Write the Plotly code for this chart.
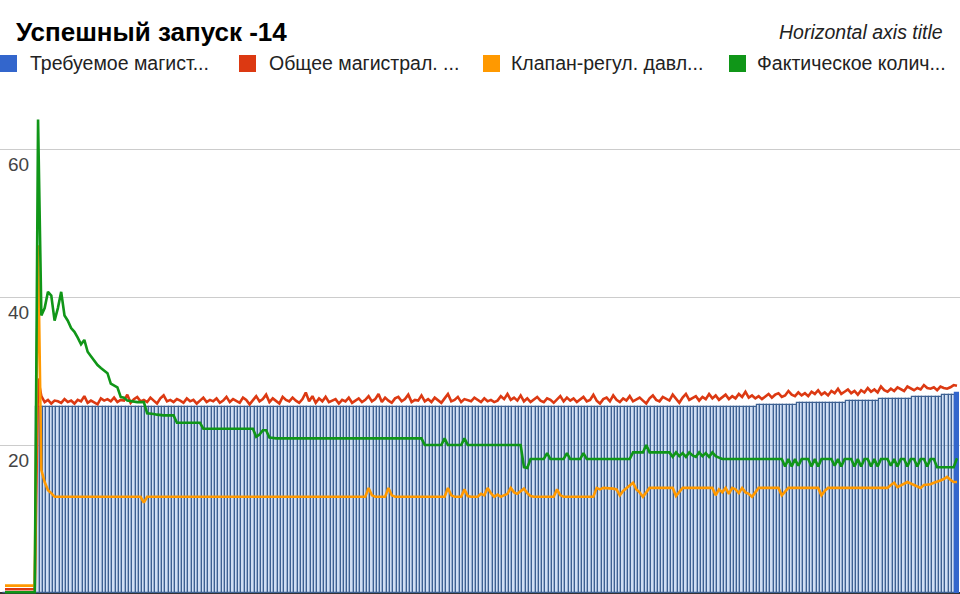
import plotly.graph_objects as go

# ---------------- data ----------------
title_text = "Успешный запуск -14"
h_axis_title = "Horizontal axis title"
series_names = ["Требуемое магист...", "Общее магистрал. ...", "Клапан-регул. давл...", "Фактическое колич..."]
y_tick_values = [20, 40, 60]
y_tick_labels = ["20", "40", "60"]

required = [
0,0,0,0,0,0,0,0,0,0,
25.1,25.1,25.1,25.1,25.1,25.1,25.1,25.1,25.1,25.1,25.1,25.1,25.1,25.1,25.1,25.1,25.1,25.1,25.1,25.1,
25.1,25.1,25.1,25.1,25.1,25.1,25.1,25.1,25.1,25.1,25.1,25.1,25.1,25.1,25.1,25.1,25.1,25.1,25.1,25.1,
25.1,25.1,25.1,25.1,25.1,25.1,25.1,25.1,25.1,25.1,25.1,25.1,25.1,25.1,25.1,25.1,25.1,25.1,25.1,25.1,
25.1,25.1,25.1,25.1,25.1,25.1,25.1,25.1,25.1,25.1,25.1,25.1,25.1,25.1,25.1,25.1,25.1,25.1,25.1,25.1,
25.1,25.1,25.1,25.1,25.1,25.1,25.1,25.1,25.1,25.1,25.1,25.1,25.1,25.1,25.1,25.1,25.1,25.1,25.1,25.1,
25.1,25.1,25.1,25.1,25.1,25.1,25.1,25.1,25.1,25.1,25.1,25.1,25.1,25.1,25.1,25.1,25.1,25.1,25.1,25.1,
25.1,25.1,25.1,25.1,25.1,25.1,25.1,25.1,25.1,25.1,25.1,25.1,25.1,25.1,25.1,25.1,25.1,25.1,25.1,25.1,
25.1,25.1,25.1,25.1,25.1,25.1,25.1,25.1,25.1,25.1,25.1,25.1,25.1,25.1,25.1,25.1,25.1,25.1,25.1,25.1,
25.1,25.1,25.1,25.1,25.1,25.1,25.1,25.1,25.1,25.1,25.1,25.1,25.1,25.1,25.1,25.1,25.1,25.1,25.1,25.1,
25.1,25.1,25.1,25.1,25.1,25.1,25.1,25.1,25.1,25.1,25.1,25.1,25.1,25.1,25.1,25.1,25.1,25.1,25.1,25.1,
25.1,25.1,25.1,25.1,25.1,25.1,25.1,25.1,
25.2,25.2,25.2,25.2,25.2,25.2,25.2,25.2,25.2,25.2,
25.4,25.4,25.4,25.4,25.4,25.4,25.4,25.4,25.4,25.4,25.4,25.4,
25.7,25.7,25.7,25.7,25.7,25.7,25.7,25.7,25.7,25.7,25.7,25.7,25.7,25.7,25.7,
25.9,25.9,25.9,25.9,25.9,25.9,25.9,25.9,25.9,25.9,
26.2,26.2,26.2,26.2,26.2,26.2,26.2,26.2,26.2,26.2,
26.5,26.5,26.5,26.5,26.5,26.5,26.5,26.5,26.5,
26.8,26.8,26.8,26.8,
27.0]

total_main = [
0.5,0.5,0.5,0.5,0.5,0.5,0.5,0.5,0.5,0.5,
29.0,
26.6,25.8,26.1,25.6,26.0,25.9,25.7,26.2,25.8,26.0,
25.6,26.1,25.9,26.6,25.7,26.0,25.8,25.5,26.3,26.0,
26.2,25.9,26.4,25.8,26.1,26.0,26.8,25.7,26.2,26.5,
25.9,26.1,25.8,26.4,26.0,25.6,26.3,26.7,25.9,26.1,
25.8,26.2,26.0,25.7,26.3,25.9,26.1,25.6,26.0,26.4,
25.8,26.1,25.9,26.3,25.7,26.0,26.5,25.8,26.2,26.0,
25.7,26.4,26.1,25.5,26.0,26.6,25.9,26.2,26.8,25.8,
26.3,26.0,25.6,26.5,26.1,25.9,26.4,26.0,25.7,26.2,
27.1,25.9,26.6,25.7,26.3,25.9,26.5,25.8,26.0,26.2,
25.6,26.1,25.9,26.4,25.7,26.0,26.3,25.8,26.1,26.6,
25.9,26.2,26.9,25.8,26.4,26.0,25.7,26.3,26.5,25.9,
26.2,26.8,25.8,26.1,26.0,26.7,25.9,26.2,25.8,26.4,
26.0,25.7,26.3,26.9,25.9,26.1,26.5,25.8,26.2,26.0,
25.9,26.4,26.1,25.8,26.3,25.9,26.1,25.8,26.0,26.6,
26.2,26.9,26.1,26.4,26.0,26.7,25.9,26.3,25.8,26.1,
26.5,26.0,25.8,26.3,26.1,25.7,26.2,26.6,25.9,26.4,
26.0,26.3,25.8,26.2,26.5,25.9,26.1,26.8,26.0,25.6,
26.2,26.4,25.9,26.7,26.1,25.8,26.3,26.0,26.6,25.9,
26.2,26.4,26.0,25.6,26.3,26.7,26.1,25.9,26.5,26.2,
26.0,26.8,26.2,25.7,26.4,26.9,26.1,26.3,26.6,26.0,
26.5,26.2,26.9,26.3,26.7,26.1,26.4,26.8,26.2,26.6,
26.3,26.9,26.5,27.2,26.4,26.7,26.3,26.6,26.2,26.5,
26.9,26.4,26.8,27.0,26.5,26.7,27.3,26.8,26.6,27.1,
26.7,27.0,26.6,27.2,26.9,27.4,26.8,27.1,26.7,27.3,
27.0,27.6,26.9,27.2,27.5,27.0,27.3,26.8,27.4,27.1,
27.7,27.2,27.5,27.1,27.9,27.4,27.2,27.6,27.3,27.8,
27.5,27.3,27.9,27.6,27.4,27.7,27.5,28.1,27.7,27.6,
27.8,27.4,27.9,27.7,27.6,27.8,28.1,28.0]

valve_reg = [
1.0,1.0,1.0,1.0,1.0,1.0,1.0,1.0,1.0,1.0,
47.0,
16.6,15.0,13.9,13.5,
13.0,13.0,13.0,13.0,13.0,13.0,13.0,13.0,13.0,13.0,13.0,13.0,13.0,13.0,13.0,13.0,13.0,13.0,13.0,13.0,13.0,13.0,13.0,13.0,13.0,13.0,13.0,
12.2,
13.0,13.0,13.0,13.0,13.0,13.0,13.0,13.0,13.0,13.0,13.0,13.0,13.0,13.0,13.0,13.0,13.0,13.0,13.0,13.0,
13.0,13.0,13.0,13.0,13.0,13.0,13.0,13.0,13.0,13.0,13.0,13.0,13.0,13.0,13.0,13.0,13.0,13.0,13.0,13.0,
13.0,13.0,13.0,13.0,13.0,13.0,13.0,13.0,13.0,13.0,13.0,13.0,13.0,13.0,13.0,13.0,13.0,13.0,13.0,13.0,
13.0,13.0,13.0,13.0,13.0,13.0,13.0,
14.2,13.2,
13.0,13.0,13.0,13.0,
14.2,13.2,
13.0,13.0,13.0,13.0,13.0,13.0,13.0,13.0,13.0,13.0,13.0,13.0,13.0,13.0,13.0,13.0,
14.2,13.2,
13.0,13.0,13.0,
14.0,13.1,
13.0,13.0,13.0,
13.4,13.2,14.2,13.5,13.0,13.3,13.0,13.2,13.4,14.2,13.6,13.4,13.8,14.1,13.5,13.1,
13.0,13.0,13.0,13.0,13.0,13.0,13.0,14.0,13.2,13.0,13.0,13.0,13.0,13.0,13.0,13.0,13.0,13.0,13.0,
14.2,14.0,14.2,14.2,14.2,14.1,14.0,13.2,13.8,14.2,14.5,14.9,14.0,13.6,13.0,13.6,14.2,
14.2,14.2,14.2,14.2,14.2,14.2,14.2,
13.1,13.6,
14.2,14.2,14.2,14.2,14.2,14.2,14.2,14.2,14.2,14.2,
13.2,14.0,13.6,14.2,13.4,14.2,14.0,13.5,14.2,13.6,13.4,13.0,13.6,
14.2,14.2,14.2,14.2,14.2,14.2,14.2,
13.2,13.7,
14.2,14.2,14.2,14.2,14.2,14.2,14.2,14.2,14.2,14.2,
13.2,13.8,
14.2,14.2,14.2,14.2,14.2,14.2,14.2,14.2,14.2,14.2,14.2,14.2,14.2,14.2,14.2,14.2,14.2,14.2,14.2,
14.6,14.9,14.3,14.5,14.8,15.0,14.8,14.6,14.4,14.2,14.6,14.6,14.7,14.9,15.0,15.2,15.4,15.7,15.3,15.0,15.0]

actual_qty = [
0.1,0.1,0.1,0.1,0.1,0.1,0.1,0.1,0.1,0.1,
64.0,
37.5,38.5,40.7,40.2,36.8,38.5,40.7,37.5,36.8,35.8,35.3,34.5,33.6,34.2,32.6,32.0,31.4,30.8,30.4,30.0,29.7,28.3,28.1,27.8,26.5,26.4,
26.0,25.9,25.8,25.8,25.8,25.8,
24.3,24.3,24.2,24.1,24.0,24.0,24.0,24.0,24.0,
23.0,23.0,23.0,23.0,23.0,23.0,23.0,23.0,
22.2,22.2,22.2,22.2,22.2,22.2,22.2,22.2,22.2,22.2,22.2,22.2,22.2,22.2,22.2,22.2,
21.1,21.4,22.0,22.0,21.0,
20.9,20.9,20.9,20.9,20.9,20.9,20.9,20.9,20.9,20.9,20.9,20.9,20.9,20.9,20.9,20.9,20.9,20.9,20.9,20.9,
20.9,20.9,20.9,20.9,20.9,20.9,20.9,20.9,20.9,20.9,20.9,20.9,20.9,20.9,20.9,20.9,20.9,20.9,20.9,20.9,
20.9,20.9,20.9,20.9,20.9,20.9,
20.0,20.0,20.0,20.0,20.0,20.0,20.9,20.0,20.0,20.0,20.0,20.0,20.9,
20.0,20.0,20.0,20.0,20.0,20.0,20.0,20.0,20.0,20.0,20.0,20.0,20.0,20.0,20.0,20.0,20.0,
17.0,16.9,
18.1,18.1,18.1,18.1,18.1,18.9,18.1,18.1,18.1,18.1,18.1,18.9,18.1,18.1,18.1,18.1,18.9,
18.1,18.1,18.1,18.1,18.1,18.1,18.1,18.1,18.1,18.1,18.1,18.1,18.1,18.1,
19.0,19.0,19.0,19.0,20.0,19.0,19.0,19.0,19.0,19.0,19.0,19.0,
18.4,19.0,18.5,18.9,18.4,19.0,18.6,18.4,19.0,18.5,18.9,18.4,19.0,18.5,18.3,
18.1,18.1,18.1,18.1,18.1,18.1,18.1,18.1,18.1,18.1,18.1,18.1,18.1,18.1,18.1,18.1,18.1,
18.1,18.1,17.1,18.1,17.1,18.1,17.2,18.1,18.1,18.1,
17.1,18.1,17.1,18.1,18.1,18.1,18.1,17.2,18.1,17.1,
18.1,18.1,18.1,17.1,18.1,17.1,18.1,18.1,17.1,18.1,
17.1,18.1,18.1,18.1,17.2,18.1,17.1,18.1,18.1,17.1,
18.1,18.1,17.1,18.1,18.1,17.1,18.1,18.1,
17.0,17.0,17.0,17.0,17.0,17.0,
18.2]

lens = [len(required), len(total_main), len(valve_reg), len(actual_qty)]
assert len(set(lens)) == 1, f"length mismatch {lens}"
n = lens[0]
x_idx = list(range(n))

# ---------------- styling ----------------
W, H = 960, 594
FONT = "Liberation Sans, Arial, sans-serif"
BLUE, RED, ORANGE, GREEN = "#3366cc", "#dc3912", "#ff9900", "#109618"

bar_fill = ["rgba(90,140,215,0.28)"] * (n - 1) + [BLUE]
bar_line = ["#3e6192"] * (n - 1) + [BLUE]

fig = go.Figure()
fig.add_trace(go.Bar(x=x_idx, y=required, name=series_names[0],
                     marker=dict(color=bar_fill, line=dict(color=bar_line, width=1.2)),
                     showlegend=False))
fig.add_trace(go.Scatter(x=x_idx, y=total_main, mode="lines", name=series_names[1],
                         line=dict(color=RED, width=2.6), showlegend=False))
fig.add_trace(go.Scatter(x=x_idx, y=valve_reg, mode="lines", name=series_names[2],
                         line=dict(color=ORANGE, width=2.6), showlegend=False))
fig.add_trace(go.Scatter(x=x_idx, y=actual_qty, mode="lines", name=series_names[3],
                         line=dict(color=GREEN, width=2.6), showlegend=False))

# axis ranges chosen so that the chart area fills the whole window (cropped view)
ppx = 3.3055
x0 = -5 / ppx
ppy = 7.4
y0 = -1 / ppy

def px(xp):
    return xp / W

def py(yp):
    return 1 - yp / H

shapes = []
annotations = []

TXT = 19.5
legend_sq = [(0, BLUE), (239, RED), (483, ORANGE), (729, GREEN)]
legend_tx = [28, 267, 509, 755]
for (sx, col), tx, name in zip(legend_sq, legend_tx, series_names):
    shapes.append(dict(type="rect", xref="paper", yref="paper",
                       x0=px(sx), x1=px(sx + 17), y0=py(72), y1=py(55),
                       fillcolor=col, line=dict(width=0)))
    annotations.append(dict(text=name, xref="paper", yref="paper", x=px(tx), y=py(63),
                            xanchor="left", yanchor="middle", showarrow=False,
                            font=dict(family=FONT, size=TXT, color="#222222")))

annotations.append(dict(text="<b>" + title_text + "</b>", xref="paper", yref="paper",
                        x=px(14), y=py(32), xanchor="left", yanchor="middle", showarrow=False,
                        font=dict(family=FONT, size=26, color="#000000")))
annotations.append(dict(text="<i>" + h_axis_title + "</i>", xref="paper", yref="paper",
                        x=px(945), y=py(32), xanchor="right", yanchor="middle", showarrow=False,
                        font=dict(family=FONT, size=TXT, color="#222222")))
for v, lab in zip(y_tick_values, y_tick_labels):
    annotations.append(dict(text=lab, xref="paper", yref="y", x=px(6), y=v, yshift=-15,
                            xanchor="left", yanchor="middle", showarrow=False,
                            font=dict(family=FONT, size=19, color="#444444")))

fig.update_layout(
    width=W, height=H,
    margin=dict(l=0, r=0, t=0, b=0),
    paper_bgcolor="white", plot_bgcolor="white",
    bargap=0,
    shapes=shapes, annotations=annotations,
    xaxis=dict(range=[x0, x0 + W / ppx], showgrid=False, zeroline=False,
               showticklabels=False, ticks="", fixedrange=True),
    yaxis=dict(range=[y0, y0 + H / ppy], dtick=20, tick0=0, showgrid=True,
               gridcolor="#cccccc", gridwidth=1, zeroline=True, zerolinecolor="#333333",
               zerolinewidth=1.5, showticklabels=False, ticks="", fixedrange=True),
    font=dict(family=FONT),
)

fig.write_html("out.html", config={"displayModeBar": False},
               post_script="document.body.style.margin='0';document.body.style.overflow='hidden';")
